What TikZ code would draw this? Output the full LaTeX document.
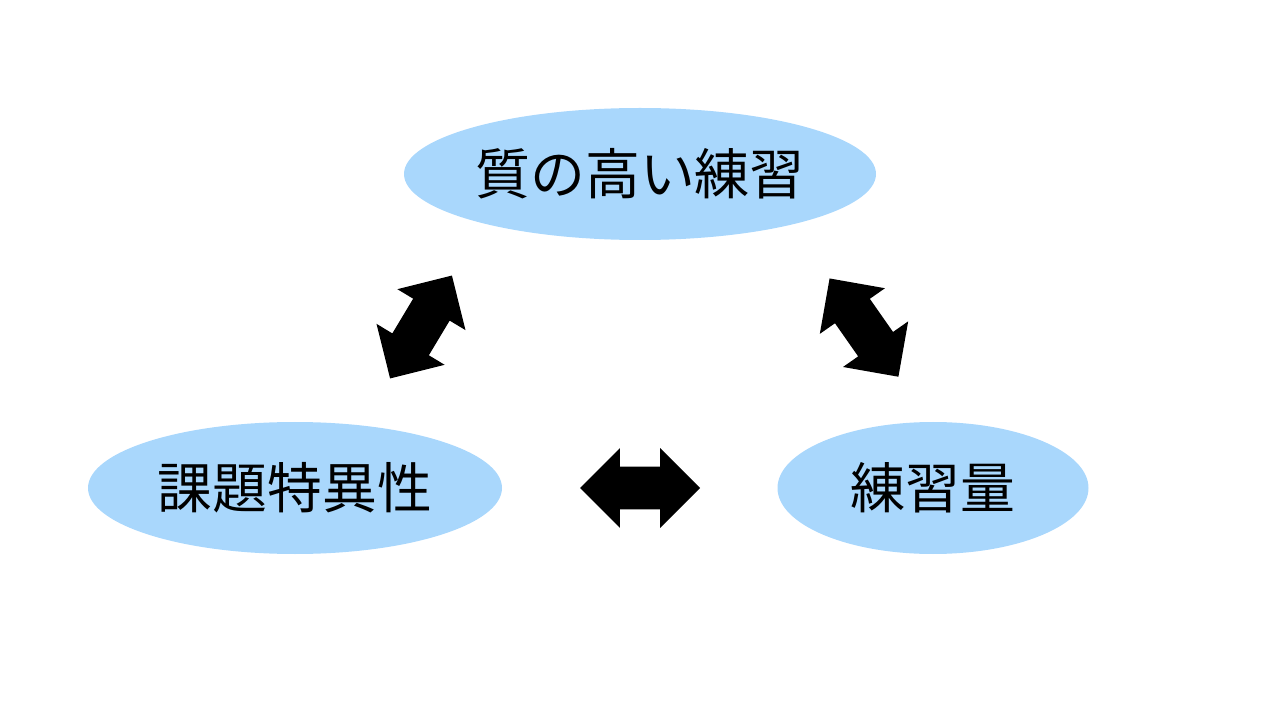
\documentclass[tikz,border=0pt]{standalone}
\usepackage{fontspec}
\newfontfamily\jpfont{Noto Sans CJK JP}
\usetikzlibrary{shapes,arrows,positioning}
\definecolor{bubbleblue}{RGB}{169,215,252}

\begin{document}
\begin{tikzpicture}[bubble/.style={ellipse,fill=bubbleblue,inner sep=0,minimum height=3.3cm,font=\jpfont\fontsize{39}{47}\selectfont},
                    darrow/.style={double arrow,fill=black,inner sep=0.525cm,minimum height=3cm,double arrow head extend=0.4625cm}]
\useasboundingbox (0,0) rectangle (32,18);
       \node [bubble,minimum width=11.8cm]  (quality) at (16,13.65) {質の高い練習};
       \node [bubble,minimum width=10.35cm] (task) at (7.375,5.8) {課題特異性};
       \node [bubble,minimum width=7.775cm] (amount) at (23.325,5.8) {練習量};
       \node [darrow,rotate=59]  (a1) at (10.525,9.825) {};
       \node [darrow,rotate=-55] (a2) at (21.6,9.81) {};
       \node [darrow]            (a3) at (16,5.8) {};
\end{tikzpicture}
\end{document}
